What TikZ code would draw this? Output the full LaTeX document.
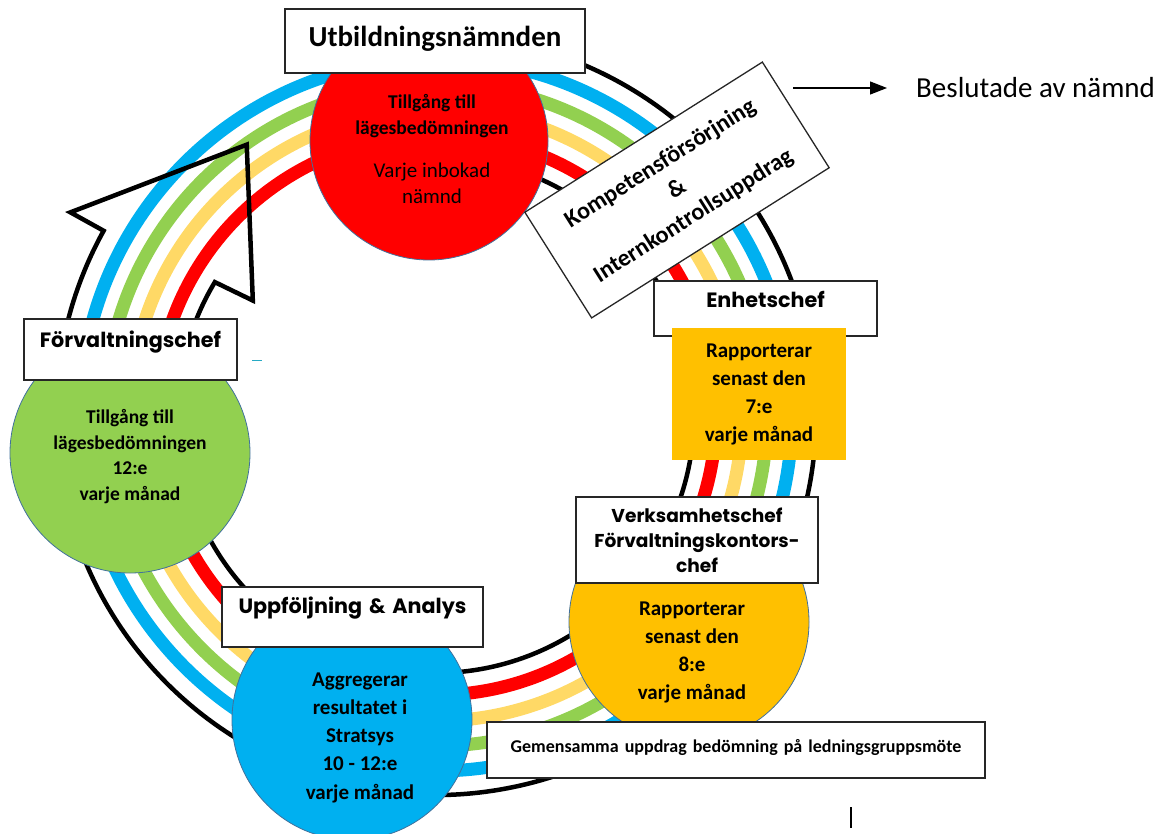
\documentclass[tikz,border=0pt]{standalone}
\usepackage{fontspec}
\setmainfont{Carlito}
\newfontfamily\headfont{Poppins}
\usetikzlibrary{arrows.meta, positioning}
\definecolor{bandred}{HTML}{FF0000}
\definecolor{bandyel}{HTML}{FFD966}
\definecolor{bandgrn}{HTML}{92D050}
\definecolor{bandblu}{HTML}{00B0F0}
\definecolor{orgc}{HTML}{FFC000}
\definecolor{circline}{HTML}{41719C}
\tikzstyle{bubble}=[circle, draw=circline, line width=0.8pt, minimum size=240pt, inner sep=0pt]
\tikzstyle{bubtext}=[align=center, inner sep=0pt, font=\fontsize{21}{28}\selectfont\bfseries]
\tikzstyle{titlebox}=[draw=black!85, fill=white, line width=1.5pt, rectangle, inner sep=0pt, align=center]
\tikzstyle{headfnt}=[font=\headfont\bfseries\fontsize{20.7}{25}\selectfont]
\tikzstyle{band}=[line width=13pt]
\tikzstyle{ringline}=[line width=4.5pt, line join=miter]

\begin{document}
\begin{tikzpicture}[x=1pt, y=1pt, >={Triangle[length=17pt, width=13pt]}]
    \useasboundingbox (0,0) rectangle (1167,-834);
    \coordinate (c) at (436,-415);
    \draw[band, bandred] (c) circle[radius=280];
    \draw[band, bandyel] (c) circle[radius=306];
    \draw[band, bandgrn] (c) circle[radius=331];
    \draw[band, bandblu] (c) circle[radius=356];
    \draw[ringline, shift={(436,-415)}] (100:380) arc[start angle=100, end angle=-209, radius=380]
        -- (151:418) -- (125:330) -- (148:216) -- (149:258)
        arc[start angle=149, end angle=460, radius=258];

    \node[bubble, fill=bandred, minimum size=238pt] (nrc) at (429,-141) {};
    \node[bubtext, font=\fontsize{19.5}{26}\selectfont\bfseries] (nrtop) at (432,-116.5) {Tillgång till\\lägesbedömningen};
    \node[bubtext, font=\fontsize{21}{26}\selectfont] (nrbot) at (432,-183) {Varje inbokad\\nämnd};
    \node[bubble, fill=bandgrn] (gc) at (130,-453) {};
    \node[bubtext, font=\fontsize{19.5}{25.5}\selectfont\bfseries] (gtxt) at (130,-456.5) {Tillgång till\\lägesbedömningen\\12:e\\varje månad};
    \node[bubble, fill=orgc] (oc) at (689,-622) {};
    \node[bubtext] (otxt) at (692,-652) {Rapporterar\\senast den\\8:e\\varje månad};
    \node[bubble, fill=bandblu] (bc) at (352,-720) {};
    \node[bubtext, font=\fontsize{21}{28.25}\selectfont\bfseries] (btxt) at (360,-737.5) {Aggregerar\\resultatet i\\Stratsys\\10 - 12:e\\varje månad};

    \node[titlebox, anchor=base, text width=300pt, text height=38pt, text depth=26pt, font=\fontsize{29}{34}\selectfont\bfseries] (utb) at (435,-47) {Utbildningsnämnden};
    \node[titlebox, rotate=32.3, minimum width=281pt, minimum height=125pt, line width=1.3pt, font=\fontsize{24}{31}\selectfont\bfseries] (komp) at (677,-190) {Kompetensförsörjning\\\&\\Internkontrollsuppdrag};
    \node[titlebox, headfnt, anchor=base, text width=213pt, text height=28pt, text depth=33pt] (fchef) at (130.5,-347) {Förvaltningschef};
    \node[titlebox, headfnt, anchor=base, text width=223pt, text height=27pt, text depth=28pt] (echef) at (765.5,-308) {Enhetschef};
    \node[bubtext, fill=orgc, minimum width=174pt, minimum height=132pt] (erect) at (759,-394) {Rapporterar\\senast den\\7:e\\varje månad};
    \node[titlebox, text width=242pt, minimum height=86pt, font=\headfont\bfseries\fontsize{18.6}{25}\selectfont] (vchef) at (697,-540) {Verksamhetschef\\Förvaltningskontors-\\chef};
    \node[titlebox, headfnt, anchor=base, text width=261pt, text height=26pt, text depth=34pt] (uppf) at (352.5,-613) {Uppföljning \& Analys};
    \node[titlebox, anchor=base, text width=498pt, text height=30pt, text depth=26pt, font=\fontsize{18}{22}\selectfont\bfseries] (gem) at (736,-752) {Gemensamma uppdrag bedömning på ledningsgruppsmöte};

    \coordinate (bstart) at (793,-88);
    \node[right=120pt of bstart, inner sep=3pt, font=\fontsize{29}{34}\selectfont] (besl) {Beslutade av nämnd};
    \draw[->, line width=1.2pt, shorten >=26pt] (bstart) -- (besl);

    \draw[circline!60!cyan, line width=1pt] (252,-360) -- (262,-360);
    \draw[line width=1.2pt] (851,-807) -- (851,-828);
\end{tikzpicture}
\end{document}
